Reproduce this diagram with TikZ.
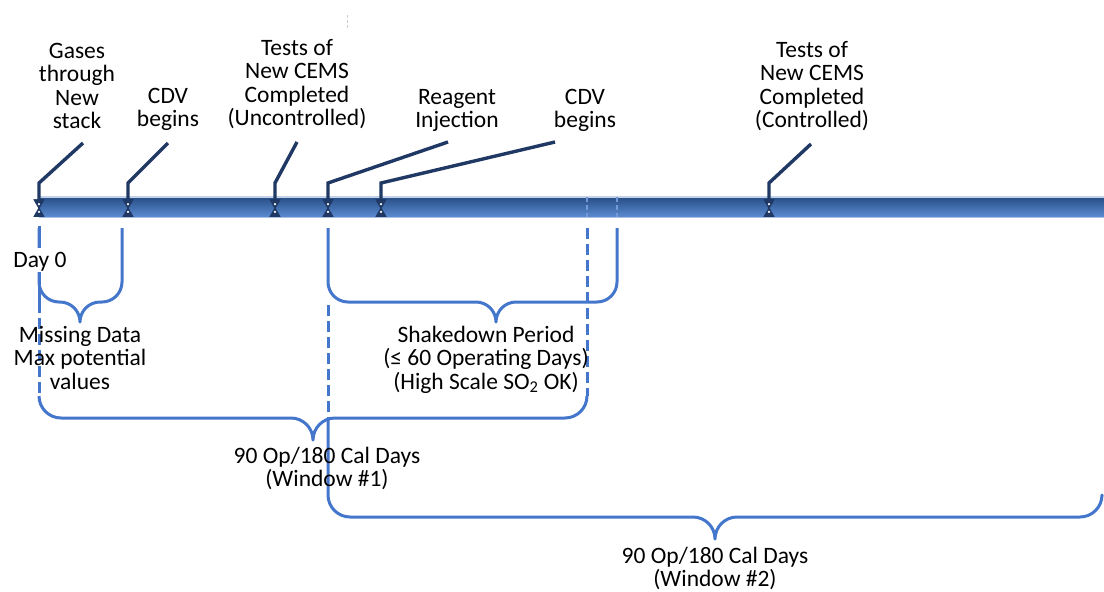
\documentclass[tikz,border=0pt]{standalone}
\usepackage{fontspec}
\setmainfont{Carlito}
\usetikzlibrary{shapes.geometric}
\definecolor{callc}{HTML}{1F3864}
\definecolor{bracec}{HTML}{4477CC}
\definecolor{bartop}{HTML}{2B548D}
\definecolor{barbot}{HTML}{5A8AD0}
\definecolor{barline}{HTML}{C3D2EA}
\definecolor{barlineb}{HTML}{A9C0E3}
\newcommand{\fstrut}{\rule{0pt}{18pt}}
% #1 xl, #2 xr, #3 ytop-left, #4 ytop-right, #5 yh, #6 xtip, #7 r
\newcommand{\mybrace}[7]{%
\draw[brace] (#1,#3) -- (#1,#5-#7) .. controls (#1,#5-0.45*#7) and (#1+0.45*#7,#5) .. (#1+#7,#5)
 -- (#6-#7,#5) .. controls (#6-0.45*#7,#5) and (#6,#5+0.45*#7) .. (#6,#5+#7)
 .. controls (#6,#5+0.45*#7) and (#6+0.45*#7,#5) .. (#6+#7,#5)
 -- (#2-#7,#5) .. controls (#2-0.45*#7,#5) and (#2,#5-0.45*#7) .. (#2,#5-#7) -- (#2,#4);}
\tikzset{
 lbl/.style={font=\fontsize{23.5}{23.5}\selectfont, align=center, inner sep=0pt, anchor=north, text=black},
 brace/.style={draw=bracec, line width=3pt, line join=round},
 dashv/.style={draw=bracec, line width=3pt, dash pattern=on 11pt off 5pt},
 faintv/.style={draw=bracec!75, line width=1.3pt, dash pattern=on 5pt off 3pt},
 callout/.style={draw=callc, line width=3.4pt},
 dtri/.style={regular polygon, regular polygon sides=3, shape border rotate=180, fill=callc, inner sep=0pt, minimum size=13pt,
   path picture={\fill[white] (path picture bounding box.center) circle (1.3pt);}},
 utri/.style={regular polygon, regular polygon sides=3, fill=callc, inner sep=0pt, minimum size=13pt,
   path picture={\fill[white] (path picture bounding box.center) circle (1.3pt);}}
}
\begin{document}
\begin{tikzpicture}[x=1pt,y=-1pt]
\fill[white] (0,0) rectangle (1104,592);
\useasboundingbox (0,0) rectangle (1104,592);

% small artifact
\draw[gray!40, line width=0.8pt, dash pattern=on 3pt off 2pt] (347,15) -- (347,28);

% timeline bar
\draw[barline, line width=1.8pt] (39,197) -- (1104,197);
\shade[top color=bartop, bottom color=barbot] (39,198.5) rectangle (1104,216.5);
\draw[barlineb, line width=1pt] (39,217) -- (1104,217);
\draw[faintv] (587,197) -- (587,217);
\draw[faintv] (617,197) -- (617,217);

% verticals
\draw[bracec, line width=3pt] (39,226) -- (39,302);
\draw[dashv] (39,302) -- (39,396);
\draw[dashv] (328,305) -- (328,418);
\draw[dashv] (587,228) -- (587,396);

% braces
\mybrace{39}{122}{228}{228}{302}{80}{20}
\mybrace{328}{617}{228}{228}{302}{496}{20}
\mybrace{39}{587}{396}{396}{418}{313}{22}
\mybrace{328}{1102}{418}{496}{517}{715}{22}

% markers
\node[dtri] (m1) at (39,202.5) {};
\node[dtri] (m2) at (128,202.5) {};
\node[dtri] (m3) at (275,202.5) {};
\node[dtri] (m4) at (328,202.5) {};
\node[dtri] (m5) at (381,202.5) {};
\node[dtri] (m6) at (769,202.5) {};
\node[utri] (u1) at (39,213.5) {};
\node[utri] (u2) at (128,213.5) {};
\node[utri] (u3) at (275,213.5) {};
\node[utri] (u4) at (328,213.5) {};
\node[utri] (u5) at (381,213.5) {};
\node[utri] (u6) at (769,213.5) {};

% callout bends and ends
\coordinate (k1) at (39,183);  \coordinate (e1) at (83,143);
\coordinate (k2) at (128,183); \coordinate (e2) at (168,143);
\coordinate (k3) at (275,183); \coordinate (e3) at (297,142);
\coordinate (k4) at (328,183); \coordinate (e4) at (448,142);
\coordinate (k5) at (381,183); \coordinate (e5) at (555,142);
\coordinate (k6) at (769,183); \coordinate (e6) at (811,144);
\draw[callout] (m1.center) -- (k1) -- (e1);
\draw[callout] (m2.center) -- (k2) -- (e2);
\draw[callout] (m3.center) -- (k3) -- (e3);
\draw[callout] (m4.center) -- (k4) -- (e4);
\draw[callout] (m5.center) -- (k5) -- (e5);
\draw[callout] (m6.center) -- (k6) -- (e6);
\node[dtri] at (m1) {};
\node[dtri] at (m2) {};
\node[dtri] at (m3) {};
\node[dtri] at (m4) {};
\node[dtri] at (m5) {};
\node[dtri] at (m6) {};

% labels
\node[lbl] (t1) at (77,40) {\fstrut Gases\\through\\New\\stack};
\node[lbl] (t2) at (168,85) {\fstrut CDV\\begins};
\node[lbl] (t3) at (297,37) {\fstrut Tests of\\New CEMS\\Completed\\(Uncontrolled)};
\node[lbl] (t4) at (457,86) {\fstrut Reagent\\Injection};
\node[lbl] (t5) at (585,86) {\fstrut CDV\\begins};
\node[lbl] (t6) at (812,39) {\fstrut Tests of\\New CEMS\\Completed\\(Controlled)};
\node[lbl, fill=white, inner sep=1pt] (d0) at (40,248) {\fstrut Day 0};
\node[lbl] (md) at (80,324) {\fstrut Missing Data\\Max potential\\values};
\node[lbl] (sd) at (486,324) {\fstrut Shakedown Period\\(≤ 60 Operating Days)\\(High Scale SO\textsubscript{2} OK)};
\node[lbl] (w1) at (327,445) {\fstrut 90 Op/180 Cal Days\\(Window \#1)};
\node[lbl] (w2) at (715,545) {\fstrut 90 Op/180 Cal Days\\(Window \#2)};
\end{tikzpicture}
\end{document}
